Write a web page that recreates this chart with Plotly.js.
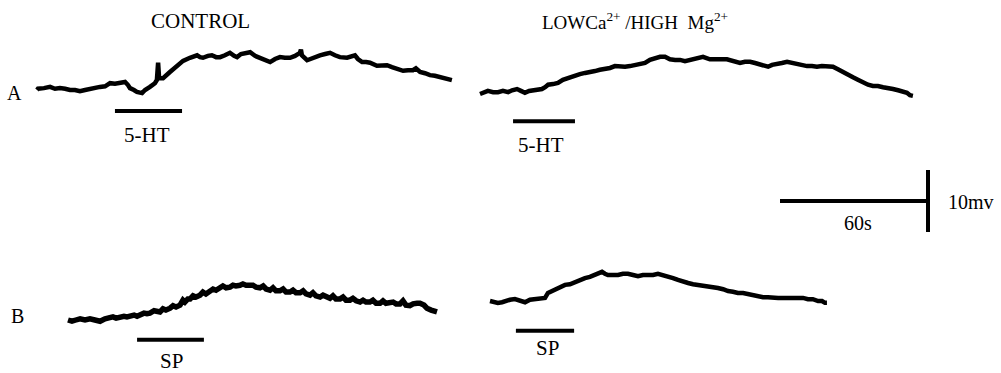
<!DOCTYPE html>
<html>
<head>
<meta charset="utf-8">
<script src="https://cdn.plot.ly/plotly-3.0.1.min.js"></script>
<style>html,body{margin:0;padding:0;background:#fff;}#chart{width:1001px;height:373px;}</style>
</head>
<body>
<div id="chart"></div>
<script>
// ---------- DATA (time in s from trace start, membrane potential change in mV) ----------
const tA_control = [0,0.4,2.8,5.3,7.3,9.3,11.4,13.4,15.4,17.4,19.5,21.5,23.5,25.5,27.6,29.6,31.6,33.6,35.7,36.9,37.7,39.3,40.5,42.6,43.8,45.8,47.8,48.6,49.1,49.5,51.1,53.9,56.8,59.2,62.0,64.1,64.9,66.1,67.3,69.3,70.9,72.6,74.2,76.2,78.2,79.9,81.1,82.7,84.3,86.4,88.4,90.4,92.4,94.5,96.5,98.5,100.5,102.6,104.6,106.6,107.0,107.4,109.5,111.9,114.7,116.8,118.8,120.8,122.8,125.7,127.3,128.9,130.1,131.8,133.4,135.0,137.8,139.9,141.9,143.9,145.9,148.4,150.4,152.4,153.6,154.5,155.3,157.3,159.3,161.3,163.4,165.4,168.2];
const vA_control = [0,0.2,0.3,0.5,0.2,0.3,0.2,0,0,-0.2,0,0.2,0.3,0.5,0.6,1.1,1.0,1.1,1.3,0.8,0.3,0,-0.3,-0.5,0,0.5,1.1,1.6,4.4,1.9,1.9,2.9,4.0,4.7,5.2,5.5,5.6,5.3,5.2,5.5,5.6,5.3,5.3,5.6,6.0,5.5,5.3,5.8,6.0,6.1,5.5,5.2,4.8,4.5,5.0,5.3,5.2,5.2,5.5,6.0,6.5,5.6,4.8,5.2,5.6,5.8,6.0,5.6,5.3,5.2,5.5,5.6,5.0,4.5,4.5,4.4,3.9,4.0,4.0,3.7,3.4,3.1,3.2,3.2,3.5,3.1,2.9,2.7,2.4,2.3,2.1,1.9,1.6];

const tA_lowCa = [0,1.6,3.2,5.3,7.3,9.3,11.4,13.0,15.0,16.6,18.2,19.9,21.1,23.1,25.1,26.4,27.6,29.6,31.6,33.6,35.7,37.3,38.5,40.5,42.6,44.6,46.6,48.6,50.7,52.7,54.7,56.8,58.8,60.8,62.8,64.9,66.9,68.9,70.9,73.0,75.0,77.0,79.1,81.1,83.1,85.1,87.6,90.4,93.2,96.1,98.1,100.1,102.6,105.4,107.4,109.5,111.5,113.5,115.5,116.8,118.4,120.4,122.4,124.5,126.5,128.5,130.5,132.6,134.6,136.6,138.6,140.7,143.1,145.1,147.2,149.2,151.2,153.2,155.3,157.3,159.3,161.3,163.4,165.4,167.4,169.5,171.5,173.1,174.3,175.5];
const vA_lowCa = [0,0.3,0.5,0.3,0.3,0.5,0.3,0.6,0.8,0.5,0.2,0.5,0.6,0.6,0.8,1.1,1.5,1.6,1.8,2.3,2.6,2.9,3.1,3.2,3.4,3.5,3.7,3.9,4.0,4.2,4.5,4.4,4.4,4.5,4.7,4.8,5.0,5.5,5.8,6.0,6.0,5.6,5.5,5.5,5.3,5.5,5.8,6.0,5.6,5.5,5.6,5.6,5.3,5.0,5.2,5.2,5.0,4.8,4.5,4.4,4.7,4.8,5.0,5.2,5.0,4.8,4.7,4.5,4.5,4.4,4.5,4.5,4.4,4.0,3.5,3.2,2.7,2.3,1.8,1.5,1.3,1.3,1.1,1.0,0.8,0.6,0.3,0.2,-0.2,-0.3];

const tB_control = [0,1.6,3.2,4.9,6.9,8.9,10.9,13.0,15.0,17.0,18.2,19.5,21.1,22.7,23.9,25.1,26.8,28.0,29.2,30.8,32.0,33.2,34.9,36.1,37.3,38.5,39.7,41.4,42.6,43.8,45.4,46.6,47.4,48.6,49.5,50.7,51.9,53.5,54.7,55.9,57.6,58.8,60.0,61.6,62.8,64.1,65.7,66.9,68.1,69.7,70.9,72.2,73.8,75.0,76.2,77.8,79.1,80.3,81.9,83.1,84.3,85.9,87.2,88.4,90.0,91.2,92.4,94.1,95.3,96.5,98.1,99.3,100.5,102.2,103.4,104.6,106.2,107.4,108.6,110.3,111.5,112.7,114.3,115.5,116.8,118.4,119.6,120.8,122.4,123.6,124.9,126.5,127.7,128.9,130.5,131.8,133.0,134.6,135.8,137.0,138.6,139.9,141.5,142.7,144.3,145.5,147.2,148.8,149.6];
const vB_control = [0,-0.2,0,0.2,0,0.2,0,-0.2,0.2,0.3,0.5,0.3,0.5,0.6,0.5,0.6,0.8,0.6,0.8,1.1,1.0,1.1,1.5,1.3,1.3,1.8,1.6,1.9,2.3,2.1,2.4,3.2,2.9,3.4,3.4,3.9,3.7,4.0,4.5,4.2,4.7,5.0,4.8,5.2,5.5,5.2,5.3,5.6,5.5,5.6,5.8,5.6,5.5,5.6,5.3,5.2,5.5,5.0,4.8,5.2,4.7,4.7,5.0,4.5,4.5,4.8,4.4,4.4,4.7,4.2,4.0,4.4,3.9,3.7,4.0,3.7,3.5,3.9,3.4,3.4,3.7,3.2,3.2,3.5,3.1,2.9,3.2,2.9,2.9,3.2,2.7,2.7,3.1,2.7,2.7,2.9,2.6,2.6,3.1,2.4,2.3,2.6,2.7,2.7,2.4,1.9,1.6,1.3,1.3];

const tB_lowCa = [0,1.6,3.2,4.9,6.1,8.1,10.1,12.2,14.2,16.2,18.2,20.3,22.3,23.5,24.7,26.4,28.4,30.4,32.4,34.5,36.5,38.5,40.5,42.6,44.6,45.4,46.6,47.8,49.9,51.9,53.9,55.9,58.0,60.0,62.0,64.1,66.1,68.1,70.1,72.2,74.2,76.2,78.2,80.3,82.3,84.3,86.4,88.4,90.4,92.4,94.5,96.5,98.5,100.5,102.6,104.6,106.6,108.6,110.7,112.7,114.7,116.8,118.8,120.8,122.8,124.9,126.9,128.9,130.9,133.0,134.6,135.8,136.6];
const vB_lowCa = [0,-0.2,-0.3,-0.2,0,0.2,0.3,0,-0.2,0.2,0.3,0.3,0.5,1.3,1.5,1.8,2.1,2.6,2.7,3.1,3.4,3.7,3.9,4.2,4.4,4.7,4.4,4.2,4.2,4.2,4.4,4.4,4.2,4.0,4.2,4.2,4.2,4.4,4.2,4.0,3.7,3.4,3.1,2.9,2.7,2.6,2.4,2.3,2.3,2.1,1.9,1.6,1.5,1.3,1.3,1.1,1.0,0.8,0.6,0.6,0.5,0.5,0.5,0.5,0.6,0.6,0.5,0.3,0.3,0,0,-0.3,-0.3];

// stimulus application (s from trace start)
const stimNames = ["5-HT", "5-HT", "SP", "SP"];
const stimOn  = [31.6, 13.4, 28.0, 10.5];
const stimOff = [58.8, 38.5, 55.1, 34.1];

// calibration
const scaleTime = 60;   // s
const scaleVolt = 10;   // mV

// ---------- LAYOUT (positions on the page, in s / mV of the shared scale) ----------
const W = 1001, H = 373;
const pxPerSec = 148 / 60;   // horizontal calibration
const pxPerMV = 62 / 10;     // vertical calibration
const xMax = W / pxPerSec, yMax = H / pxPerMV;
function px2x(px){ return px / pxPerSec; }
function py2y(py){ return (H - py) / pxPerMV; }

const panels = [
  {t: tA_control, v: vA_control, ox: px2x(37),  oy: py2y(90),  barDy: -3.4, w: 4.5},
  {t: tA_lowCa,   v: vA_lowCa,   ox: px2x(480), oy: py2y(94),  barDy: -4.4, w: 4.5},
  {t: tB_control, v: vB_control, ox: px2x(68),  oy: py2y(320), barDy: -3.2, w: 5.5},
  {t: tB_lowCa,   v: vB_lowCa,   ox: px2x(490), oy: py2y(301), barDy: -4.8, w: 4.5}
];
const stimLabelPos = [[147,135],[541,145],[171,361],[547,348]];

const traces = [];
panels.forEach((p, i) => {
  traces.push({
    x: p.t.map(t => t + p.ox), y: p.v.map(v => v + p.oy),
    mode: 'lines', line: {color: '#000', width: p.w, shape: 'linear'},
    hoverinfo: 'skip', type: 'scatter'
  });
  traces.push({
    x: [stimOn[i] + p.ox, stimOff[i] + p.ox], y: [p.oy + p.barDy, p.oy + p.barDy],
    mode: 'lines', line: {color: '#000', width: 4}, hoverinfo: 'skip', type: 'scatter'
  });
});
// calibration bars
const calX = px2x(780), calY = py2y(201);
traces.push({x: [calX, calX + scaleTime], y: [calY, calY], mode: 'lines',
  line: {color: '#000', width: 4}, hoverinfo: 'skip', type: 'scatter'});
const calVx = calX + scaleTime, calVy0 = py2y(232);
traces.push({x: [calVx, calVx], y: [calVy0, calVy0 + scaleVolt], mode: 'lines',
  line: {color: '#000', width: 4}, hoverinfo: 'skip', type: 'scatter'});

const font = {family: 'Liberation Serif, Times New Roman, serif', color: '#000', size: 21};
function ann(text, px, py, xanchor, size){
  return {text: text, x: px / W, y: 1 - py / H, xref: 'paper', yref: 'paper',
    xanchor: xanchor || 'center', yanchor: 'middle', showarrow: false,
    font: Object.assign({}, font, size ? {size: size} : {})};
}
const annotations = [
  ann('CONTROL', 200, 21, 'center', 21),
  ann('LOWCa<sup>2+</sup> /HIGH  Mg<sup>2+</sup>', 540, 21, 'left', 19),
  ann('A', 14, 93, 'center', 20),
  ann('B', 17, 316, 'center', 20),
  ann('60s', 858, 223, 'center', 20),
  ann('10mv', 946, 202, 'left', 20)
];
stimNames.forEach((n, i) => annotations.push(ann(n, stimLabelPos[i][0], stimLabelPos[i][1], 'center', 21)));

const layout = {
  width: W, height: H,
  margin: {l: 0, r: 0, t: 0, b: 0, pad: 0},
  paper_bgcolor: '#fff', plot_bgcolor: '#fff',
  showlegend: false,
  xaxis: {range: [0, xMax], visible: false, fixedrange: true},
  yaxis: {range: [0, yMax], visible: false, fixedrange: true},
  annotations: annotations
};
Plotly.newPlot('chart', traces, layout, {displayModeBar: false, staticPlot: true});
</script>
</body>
</html>
